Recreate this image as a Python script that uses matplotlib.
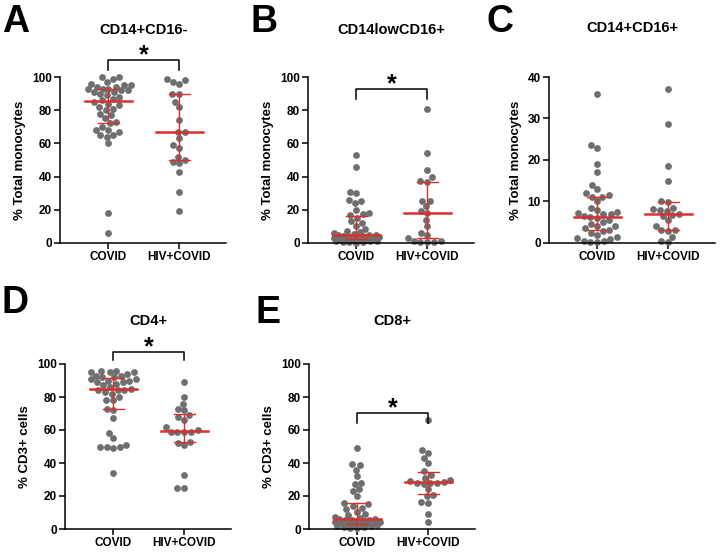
import numpy as np
import matplotlib.pyplot as plt

plt.rcParams['font.family'] = ['Liberation Sans', 'DejaVu Sans']
plt.rcParams['font.weight'] = 'bold'

groups = ['COVID', 'HIV+COVID']

# A: CD14+CD16-
a_covid = [6, 18, 60, 64, 65, 65, 67, 68, 68, 70, 72, 73, 75, 77, 78, 80, 81, 82, 83, 84, 85,
           86, 87, 88, 89, 90, 91, 91, 92, 92, 93, 93, 93, 94, 94, 95, 95, 96, 97, 99, 100, 100]
a_hiv = [19, 31, 43, 48, 49, 50, 52, 57, 59, 63, 67, 67, 74, 82, 85, 89.5, 90, 96, 97, 98, 99]

# B: CD14lowCD16+
b_covid = [0.2, 0.4, 0.6, 0.8, 1.0, 1.2, 1.4, 1.6, 1.8, 2.0, 2.1, 2.3, 2.6, 2.9, 3.2, 3.5,
           3.8, 4.1, 4.4, 4.7, 4.9, 5.1, 5.5, 6, 6.6, 7.3, 8.2, 10, 12, 13, 15,
           17, 17.5, 18, 20, 24, 25, 26, 30, 31, 46, 53]
b_hiv = [0.4, 0.6, 0.8, 1.1, 1.3, 3, 5, 6, 10, 14, 18, 19, 22, 25, 25.5, 37, 37.5, 40, 44, 54, 81]

# C: CD14+CD16+
c_covid = [0.2, 0.3, 0.5, 0.6, 1, 1.2, 1.5, 2, 2.5, 3, 3.2, 3.5, 4, 4.2, 4.5, 5, 5.5, 6, 6.2,
           6.5, 7, 7.1, 7.3, 7.5, 8, 8.5, 10, 11, 11.2, 11.5, 12, 13, 14, 17, 19, 23, 23.5, 36]
c_hiv = [0.2, 0.5, 1.5, 3, 3.1, 3.2, 4, 5.5, 6.5, 6.8, 7, 7.8, 8, 8.3, 8.5, 9.9, 10.2, 15,
         18.5, 28.7, 37]

# D: CD4+
d_covid = [34, 49, 50, 50, 50, 51, 55, 58, 67, 72, 73, 78, 78, 80, 82, 83, 84, 84, 84, 85,
           86, 87, 88, 89, 89, 90, 90, 91, 91, 92, 92, 93, 93, 94, 95, 95, 95, 96, 96]
d_hiv = [25, 25, 33, 51, 52, 53, 59, 59, 59, 59, 60, 62, 66, 68, 69, 72, 73, 76, 80, 89]

# E: CD8+
e_covid = [0.5, 0.8, 1.1, 1.4, 1.7, 2.0, 2.3, 2.5, 2.7, 2.9, 3.1, 3.4, 3.7, 4.0, 4.3, 4.6,
           4.9, 5.2, 5.4, 5.6, 5.9, 6.3, 6.8, 7.4, 8.2, 9, 10.5, 12, 13, 14, 15,
           16, 20, 23, 24, 27, 28, 32, 36, 39, 39.5, 49]
e_hiv = [4, 9, 16, 16.5, 20, 20.5, 24, 27, 28, 28, 28, 28.5, 29, 30, 31, 33, 35, 40, 43, 46,
         48, 66]

W, H = 722, 553
fig = plt.figure(figsize=(W / 100, H / 100), dpi=100)

gray = '#6f6f6f'
red = '#d9302f'


def px_axes(left, top, bottom, width=166):
    return fig.add_axes([left / W, (H - bottom) / H, width / W, (bottom - top) / H])


def swarm(values, ax, diam=6.8, maxoff=0.32):
    ppu = ax.transData.transform((1, 0))[0] - ax.transData.transform((0, 0))[0]
    maxpx = maxoff * ppu
    ypx = ax.transData.transform(np.column_stack([np.zeros(len(values)), values]))[:, 1]
    placed = []
    offs = np.zeros(len(values))
    for i in np.argsort(ypx, kind='stable'):
        y = ypx[i]
        near = [(px, py) for px, py in placed if abs(py - y) < diam]
        cands = [0.0]
        for px, py in near:
            dx = np.sqrt(diam ** 2 - (py - y) ** 2)
            cands += [px - dx, px + dx]
        cands = sorted([c for c in cands if abs(c) <= maxpx], key=abs)
        pos = None
        for c in cands:
            if all((c - px) ** 2 + (y - py) ** 2 >= diam ** 2 - 1e-6 for px, py in near):
                pos = c
                break
        if pos is None:
            # crowded: take the spot inside the band that overlaps least
            grid = np.linspace(-maxpx, maxpx, 41)
            score = [min((g - px) ** 2 + (y - py) ** 2 for px, py in near) for g in grid]
            pos = grid[int(np.argmax(score))]
        offs[i] = pos
        placed.append((pos, y))
    return offs / ppu


def panel(ax, data, ymax, ystep, ylabel, title, title_y, letter, letter_xy, sig=None):
    ax.set_xlim(-0.68, 1.66)
    ax.set_ylim(0, ymax)
    for i, vals in enumerate(data):
        vals = np.asarray(vals, dtype=float)
        off = swarm(vals, ax)
        ax.scatter(i + off, vals, s=24, color=gray, linewidths=0, zorder=2, clip_on=False)
        q1, med, q3 = np.percentile(vals, [25, 50, 75])
        ax.plot([i - 0.33, i + 0.33], [med, med], color=red, lw=1.8, zorder=3)
        ax.plot([i - 0.15, i + 0.15], [q1, q1], color=red, lw=1, zorder=3)
        ax.plot([i - 0.15, i + 0.15], [q3, q3], color=red, lw=1, zorder=3)
        ax.plot([i, i], [q1, q3], color=red, lw=1, zorder=3)
    for s in ['top', 'right']:
        ax.spines[s].set_visible(False)
    for s in ['left', 'bottom']:
        ax.spines[s].set_linewidth(1.1)
    ax.set_xticks([0, 1])
    ax.set_xticklabels(groups)
    ax.set_yticks(np.arange(0, ymax + 1, ystep))
    ax.tick_params(labelsize=8.5, width=1.1, length=4, pad=2)
    ax.set_ylabel(ylabel, fontsize=9.5, fontweight='bold', labelpad=4)
    ax.text(0.5, 1 - title_y / H, title, transform=ax.get_xaxis_transform().__class__(
        ax.transData, fig.transFigure), ha='center', va='baseline', fontsize=10.5,
        fontweight='bold')
    fig.text(letter_xy[0] / W, 1 - letter_xy[1] / H, letter, fontsize=27,
             fontweight='bold', ha='left', va='baseline')
    if sig is not None:
        yb, yd = sig
        ax.plot([0, 0, 1, 1], [yd, yb, yb, yd], color='black', lw=1.1, clip_on=False)
        ax.text(0.5, yb - 1.5, '*', ha='center', va='baseline', fontsize=18,
                fontweight='bold', clip_on=False)


ax_a = px_axes(60, 77, 243)
panel(ax_a, [a_covid, a_hiv], 100, 20, '% Total monocytes', 'CD14+CD16-', 34, 'A', (2, 32),
      sig=(110.5, 104.5))

ax_b = px_axes(308, 77, 243)
panel(ax_b, [b_covid, b_hiv], 100, 20, '% Total monocytes', 'CD14lowCD16+', 34, 'B', (250, 32),
      sig=(93, 86.5))

ax_c = px_axes(549, 77, 243)
panel(ax_c, [c_covid, c_hiv], 40, 10, '% Total monocytes', 'CD14+CD16+', 32, 'C', (487, 32))

ax_d = px_axes(65, 364, 529)
panel(ax_d, [d_covid, d_hiv], 100, 20, '% CD3+ cells', 'CD4+', 325, 'D', (2, 313),
      sig=(107.5, 102.5))

ax_e = px_axes(309, 364, 529)
panel(ax_e, [e_covid, e_hiv], 100, 20, '% CD3+ cells', 'CD8+', 325, 'E', (255, 323),
      sig=(70.5, 64.5))

fig.savefig('out.png', dpi=100)
